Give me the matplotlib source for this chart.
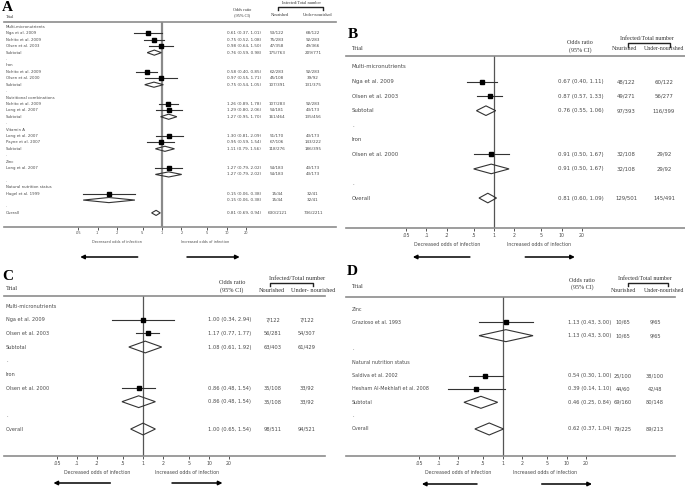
import matplotlib
matplotlib.use('Agg')
import matplotlib.pyplot as plt
from matplotlib.patches import Polygon
from matplotlib.lines import Line2D
from matplotlib.ticker import NullLocator
from matplotlib.transforms import blended_transform_factory

W, H = 685, 488

ticks = [0.05, 0.1, 0.2, 0.5, 1, 2, 5, 10, 20]
tick_labels = ['.05', '.1', '.2', '.5', '1', '2', '5', '10', '20']

# row kinds: h = group heading, s = study, d = pooled (diamond), b = blank
# ---- Panel A: all infections ----
a_kind = 'hsssd' + 'b' + 'hssd' + 'b' + 'hssd' + 'b' + 'hssd' + 'b' + 'hsd' + 'b' + 'hsd' + 'b' + 'd'
a_labels = ['Multi-micronutrients', 'Nga et al. 2009', 'Nchito et al. 2009', 'Olsen et al. 2003', 'Subtotal', '.',
            'Iron', 'Nchito et al. 2009', 'Olsen et al. 2000', 'Subtotal', '.',
            'Nutritional combinations', 'Nchito et al. 2009', 'Long et al. 2007', 'Subtotal', '.',
            'Vitamin A', 'Long et al. 2007', 'Payne et al. 2007', 'Subtotal', '.',
            'Zinc', 'Long et al. 2007', '', '.',
            'Natural nutrition status', 'Hagel et al. 1999', '', '.', 'Overall']
a_or = [None, 0.61, 0.75, 0.98, 0.76, None, None, 0.58, 0.97, 0.75, None, None, 1.26, 1.29, 1.27, None,
        None, 1.30, 0.95, 1.11, None, None, 1.27, 1.27, None, None, 0.15, 0.15, None, 0.81]
a_lo = [None, 0.37, 0.52, 0.64, 0.59, None, None, 0.40, 0.55, 0.54, None, None, 0.89, 0.80, 0.95, None,
        None, 0.81, 0.59, 0.79, None, None, 0.79, 0.79, None, None, 0.06, 0.06, None, 0.69]
a_hi = [None, 1.01, 1.08, 1.50, 0.98, None, None, 0.85, 1.71, 1.05, None, None, 1.78, 2.06, 1.70, None,
        None, 2.09, 1.54, 1.56, None, None, 2.02, 2.02, None, None, 0.38, 0.38, None, 0.94]
a_nour = ['', '53/122', '75/283', '47/358', '175/763', '', '', '62/283', '45/108', '107/391', '', '',
          '107/283', '54/181', '161/464', '', '', '51/170', '67/106', '118/276', '', '', '54/183', '54/183',
          '', '', '15/44', '15/44', '', '630/2121']
a_under = ['', '68/122', '92/283', '49/366', '209/771', '', '', '92/283', '39/92', '131/375', '', '',
           '92/283', '43/173', '135/456', '', '', '43/173', '143/222', '186/395', '', '', '43/173', '43/173',
           '', '', '32/41', '32/41', '', '736/2211']

# ---- Panel B ----
b_kind = 'hssdbhsdbd'
b_labels = ['Multi-micronutrients', 'Nga et al. 2009', 'Olsen et al. 2003', 'Subtotal', '.',
            'Iron', 'Olsen et al. 2000', '', '.', 'Overall']
b_or = [None, 0.67, 0.87, 0.76, None, None, 0.91, 0.91, None, 0.81]
b_lo = [None, 0.40, 0.57, 0.55, None, None, 0.50, 0.50, None, 0.60]
b_hi = [None, 1.11, 1.33, 1.06, None, None, 1.67, 1.67, None, 1.09]
b_nour = ['', '48/122', '49/271', '97/393', '', '', '32/108', '32/108', '', '129/501']
b_under = ['', '60/122', '56/277', '116/399', '', '', '29/92', '29/92', '', '145/491']

# ---- Panel C ----
c_kind = 'hssdbhsdbd'
c_labels = ['Multi-micronutrients', 'Nga et al. 2009', 'Olsen et al. 2003', 'Subtotal', '.',
            'Iron', 'Olsen et al. 2000', '', '.', 'Overall']
c_or = [None, 1.00, 1.17, 1.08, None, None, 0.86, 0.86, None, 1.00]
c_lo = [None, 0.34, 0.77, 0.61, None, None, 0.48, 0.48, None, 0.65]
c_hi = [None, 2.94, 1.77, 1.92, None, None, 1.54, 1.54, None, 1.54]
c_nour = ['', '7/122', '56/281', '63/403', '', '', '35/108', '35/108', '', '98/511']
c_under = ['', '7/122', '54/307', '61/429', '', '', '33/92', '33/92', '', '94/521']

# ---- Panel D ----
d_kind = 'hsdbhssdbd'
d_labels = ['Zinc', 'Grazioso et al. 1993', '', '.', 'Natural nutrition status', 'Saldiva et al. 2002',
            'Hesham Al-Mekhlafi et al. 2008', 'Subtotal', '.', 'Overall']
d_or = [None, 1.13, 1.13, None, None, 0.54, 0.39, 0.46, None, 0.62]
d_lo = [None, 0.43, 0.43, None, None, 0.30, 0.14, 0.25, None, 0.37]
d_hi = [None, 3.00, 3.00, None, None, 1.00, 1.10, 0.84, None, 1.04]
d_nour = ['', '10/65', '10/65', '', '', '25/100', '44/60', '69/160', '', '79/225']
d_under = ['', '9/65', '9/65', '', '', '38/100', '42/48', '80/148', '', '89/213']

# layout of each panel, in pixels of the 685x488 image
cfg_a = dict(letter='A', L=4, R=336, T=22, B=227, x1=162, dec=64.5, y0=27, dy=6.41,
             lab_x=6, or_x=227, n_x=277, u_x=313, fs=2.8, fs_num=3.0, hfs=3.2, tfs=2.5, dh=0.4, ms=2.2,
             let_xy=(2, 11), trial_xy=(6, 17), odds_xy=(242, 10, 15), inf_xy=(301, 3),
             brk=(278, 323, 7, 10), nour_xy=(280, 15), under_xy=(318, 15), under_txt='Under-nourished',
             dec_y=242, arr_y=257, arr_l=(0.42, 0.054), arr_r=(2.44, 16), tpad=1.0,
             null_c='#8a8a8a', null_w=1.6, hfs_u=3.2)
cfg_b = dict(letter='B', L=346, R=685, T=56, B=228, x1=494, dec=67.6, y0=67, dy=14.56,
             lab_x=352, or_x=558, n_x=626, u_x=664, fs=3.9, fs_num=3.9, hfs=4.3, tfs=3.4, dh=0.33, ms=2.6,
             let_xy=(348, 38), trial_xy=(352, 49), odds_xy=(580, 43, 50), inf_xy=(647, 38),
             brk=(628, 670, 43, 47), nour_xy=(625, 49), under_xy=(664, 49), under_txt='Under-nourished',
             dec_y=244, arr_y=257, arr_l=(0.44, 0.063), arr_r=(2.9, 15.7), tpad=1.5,
             null_c='#555555', null_w=0.9, hfs_u=4.2)
cfg_c = dict(letter='C', L=4, R=325, T=296, B=456, x1=143, dec=66, y0=306, dy=13.67,
             lab_x=6, or_x=208, n_x=273, u_x=307, fs=3.6, fs_num=3.7, hfs=4.5, tfs=3.4, dh=0.43, ms=2.6,
             let_xy=(2, 280), trial_xy=(6, 288), odds_xy=(232, 283, 290), inf_xy=(297, 278),
             brk=(270, 313, 283, 286), nour_xy=(272, 291), under_xy=(313, 291), under_txt='Under- nourished',
             dec_y=472, arr_y=483, arr_l=(0.32, 0.044), arr_r=(2.75, 16), tpad=1.5,
             null_c='#555555', null_w=0.9, hfs_u=4.5)
cfg_d = dict(letter='D', L=346, R=675, T=297, B=456, x1=502.5, dec=64, y0=309, dy=13.33,
             lab_x=352, or_x=568, n_x=623, u_x=655, fs=3.5, fs_num=3.7, hfs=4.3, tfs=3.4, dh=0.45, ms=2.6,
             let_xy=(347, 275), trial_xy=(352, 287), odds_xy=(582, 280, 287), inf_xy=(645, 278),
             brk=(628, 668, 283, 286), nour_xy=(624, 291), under_xy=(664, 291), under_txt='Under-nourished',
             dec_y=472, arr_y=484, arr_l=(0.40, 0.055), arr_r=(4.1, 25), tpad=1.5,
             null_c='#555555', null_w=0.9, hfs_u=4.2)

SANS = 'DejaVu Sans'
SERIF = 'Liberation Serif'
TXT = '#4a4a4a'
LINE = '#8c8c8c'


def ftext(fig, px, py, s, **kw):
    fig.text(px / W, 1 - py / H, s, **kw)


def draw_panel(fig, c, kind, labels, ors, los, his, nour, under):
    ax = fig.add_axes([c['L'] / W, 1 - c['B'] / H, (c['R'] - c['L']) / W, (c['B'] - c['T']) / H])
    ax.patch.set_alpha(0)
    ax.set_xscale('log')
    ax.set_xlim(10 ** ((c['L'] - c['x1']) / c['dec']), 10 ** ((c['R'] - c['x1']) / c['dec']))

    def row(py):
        return (py - c['y0']) / c['dy']

    ax.set_ylim(row(c['B']), row(c['T']))
    for s in ('left', 'right'):
        ax.spines[s].set_visible(False)
    for s in ('top', 'bottom'):
        ax.spines[s].set_color(LINE)
        ax.spines[s].set_linewidth(1.2)
    ax.set_yticks([])
    ax.set_xticks(ticks)
    ax.set_xticklabels(tick_labels)
    ax.xaxis.set_minor_locator(NullLocator())
    ax.tick_params(axis='x', direction='out', length=2.2, width=0.7, color='#555555',
                   labelsize=c['tfs'], labelcolor=TXT, pad=c['tpad'])
    for lab in ax.get_xticklabels():
        lab.set_family(SANS)
    ax.axvline(1, color=c['null_c'], lw=c['null_w'], zorder=1)

    tr = blended_transform_factory(ax.transAxes, ax.transData)

    def fx(px):
        return (px - c['L']) / (c['R'] - c['L'])

    for i, k in enumerate(kind):
        if labels[i]:
            ax.text(fx(c['lab_x']), i, labels[i], transform=tr, fontsize=c['fs'], family=SANS,
                    color=TXT, va='center', ha='left')
        if k in 'sd':
            o, lo, hi = ors[i], los[i], his[i]
            if k == 's':
                ax.plot([lo, hi], [i, i], color='#333333', lw=0.8, zorder=2)
                ax.plot(o, i, 's', ms=c['ms'], color='black', zorder=3)
            else:
                h = c['dh']
                ax.add_patch(Polygon([(lo, i), (o, i - h), (hi, i), (o, i + h)], closed=True,
                                     fill=False, edgecolor='#333333', lw=0.8, zorder=3))
            ax.text(fx(c['or_x']), i, '%.2f (%.2f, %.2f)' % (o, lo, hi), transform=tr,
                    fontsize=c['fs_num'], family=SANS, color=TXT, va='center', ha='left')
            ax.text(fx(c['n_x']), i, nour[i], transform=tr, fontsize=c['fs_num'], family=SANS,
                    color=TXT, va='center', ha='center')
            ax.text(fx(c['u_x']), i, under[i], transform=tr, fontsize=c['fs_num'], family=SANS,
                    color=TXT, va='center', ha='center')

    # direction captions and arrows under the axis
    ax.text(0.2, row(c['dec_y']), 'Decreased odds of infection', fontsize=c['tfs'], family=SANS,
            color=TXT, ha='center', va='center')
    ax.text(4.7, row(c['dec_y']), 'Increased odds of infection', fontsize=c['tfs'], family=SANS,
            color=TXT, ha='center', va='center')
    ya = row(c['arr_y'])
    for x0, x1 in (c['arr_l'], c['arr_r']):
        ax.annotate('', xy=(x1, ya), xytext=(x0, ya), annotation_clip=False,
                    arrowprops=dict(arrowstyle='-|>', color='black', lw=1.1, mutation_scale=6,
                                    shrinkA=0, shrinkB=0))

    # headers
    ftext(fig, c['let_xy'][0], c['let_xy'][1], c['letter'], family=SERIF, fontweight='bold',
          fontsize=11, va='baseline', ha='left', color='black')
    ftext(fig, c['trial_xy'][0], c['trial_xy'][1], 'Trial', family=SERIF, fontsize=c['hfs'],
          va='center', ha='left', color='#333333')
    ox, oy1, oy2 = c['odds_xy']
    ftext(fig, ox, oy1, 'Odds ratio', family=SERIF, fontsize=c['hfs'], va='center', ha='center', color='#333333')
    ftext(fig, ox, oy2, '(95% CI)', family=SERIF, fontsize=c['hfs'], va='center', ha='center', color='#333333')
    ftext(fig, c['inf_xy'][0], c['inf_xy'][1], 'Infected/Total number', family=SERIF, fontsize=c['hfs'],
          va='center', ha='center', color='#333333')
    ftext(fig, c['nour_xy'][0], c['nour_xy'][1], 'Nourished', family=SERIF, fontsize=c['hfs'],
          va='center', ha='center', color='#333333')
    ftext(fig, c['under_xy'][0], c['under_xy'][1], c['under_txt'], family=SERIF, fontsize=c['hfs_u'],
          va='center', ha='center', color='#333333')
    bx0, bx1, by0, by1 = c['brk']
    fig.add_artist(Line2D([bx0 / W, bx0 / W, bx1 / W, bx1 / W],
                          [1 - by1 / H, 1 - by0 / H, 1 - by0 / H, 1 - by1 / H],
                          transform=fig.transFigure, color='#222222', lw=1.0))
    return ax


fig = plt.figure(figsize=(6.85, 4.88), dpi=100)
fig.patch.set_facecolor('white')
draw_panel(fig, cfg_a, a_kind, a_labels, a_or, a_lo, a_hi, a_nour, a_under)
draw_panel(fig, cfg_b, b_kind, b_labels, b_or, b_lo, b_hi, b_nour, b_under)
draw_panel(fig, cfg_c, c_kind, c_labels, c_or, c_lo, c_hi, c_nour, c_under)
draw_panel(fig, cfg_d, d_kind, d_labels, d_or, d_lo, d_hi, d_nour, d_under)
fig.savefig('out.png', dpi=100)
